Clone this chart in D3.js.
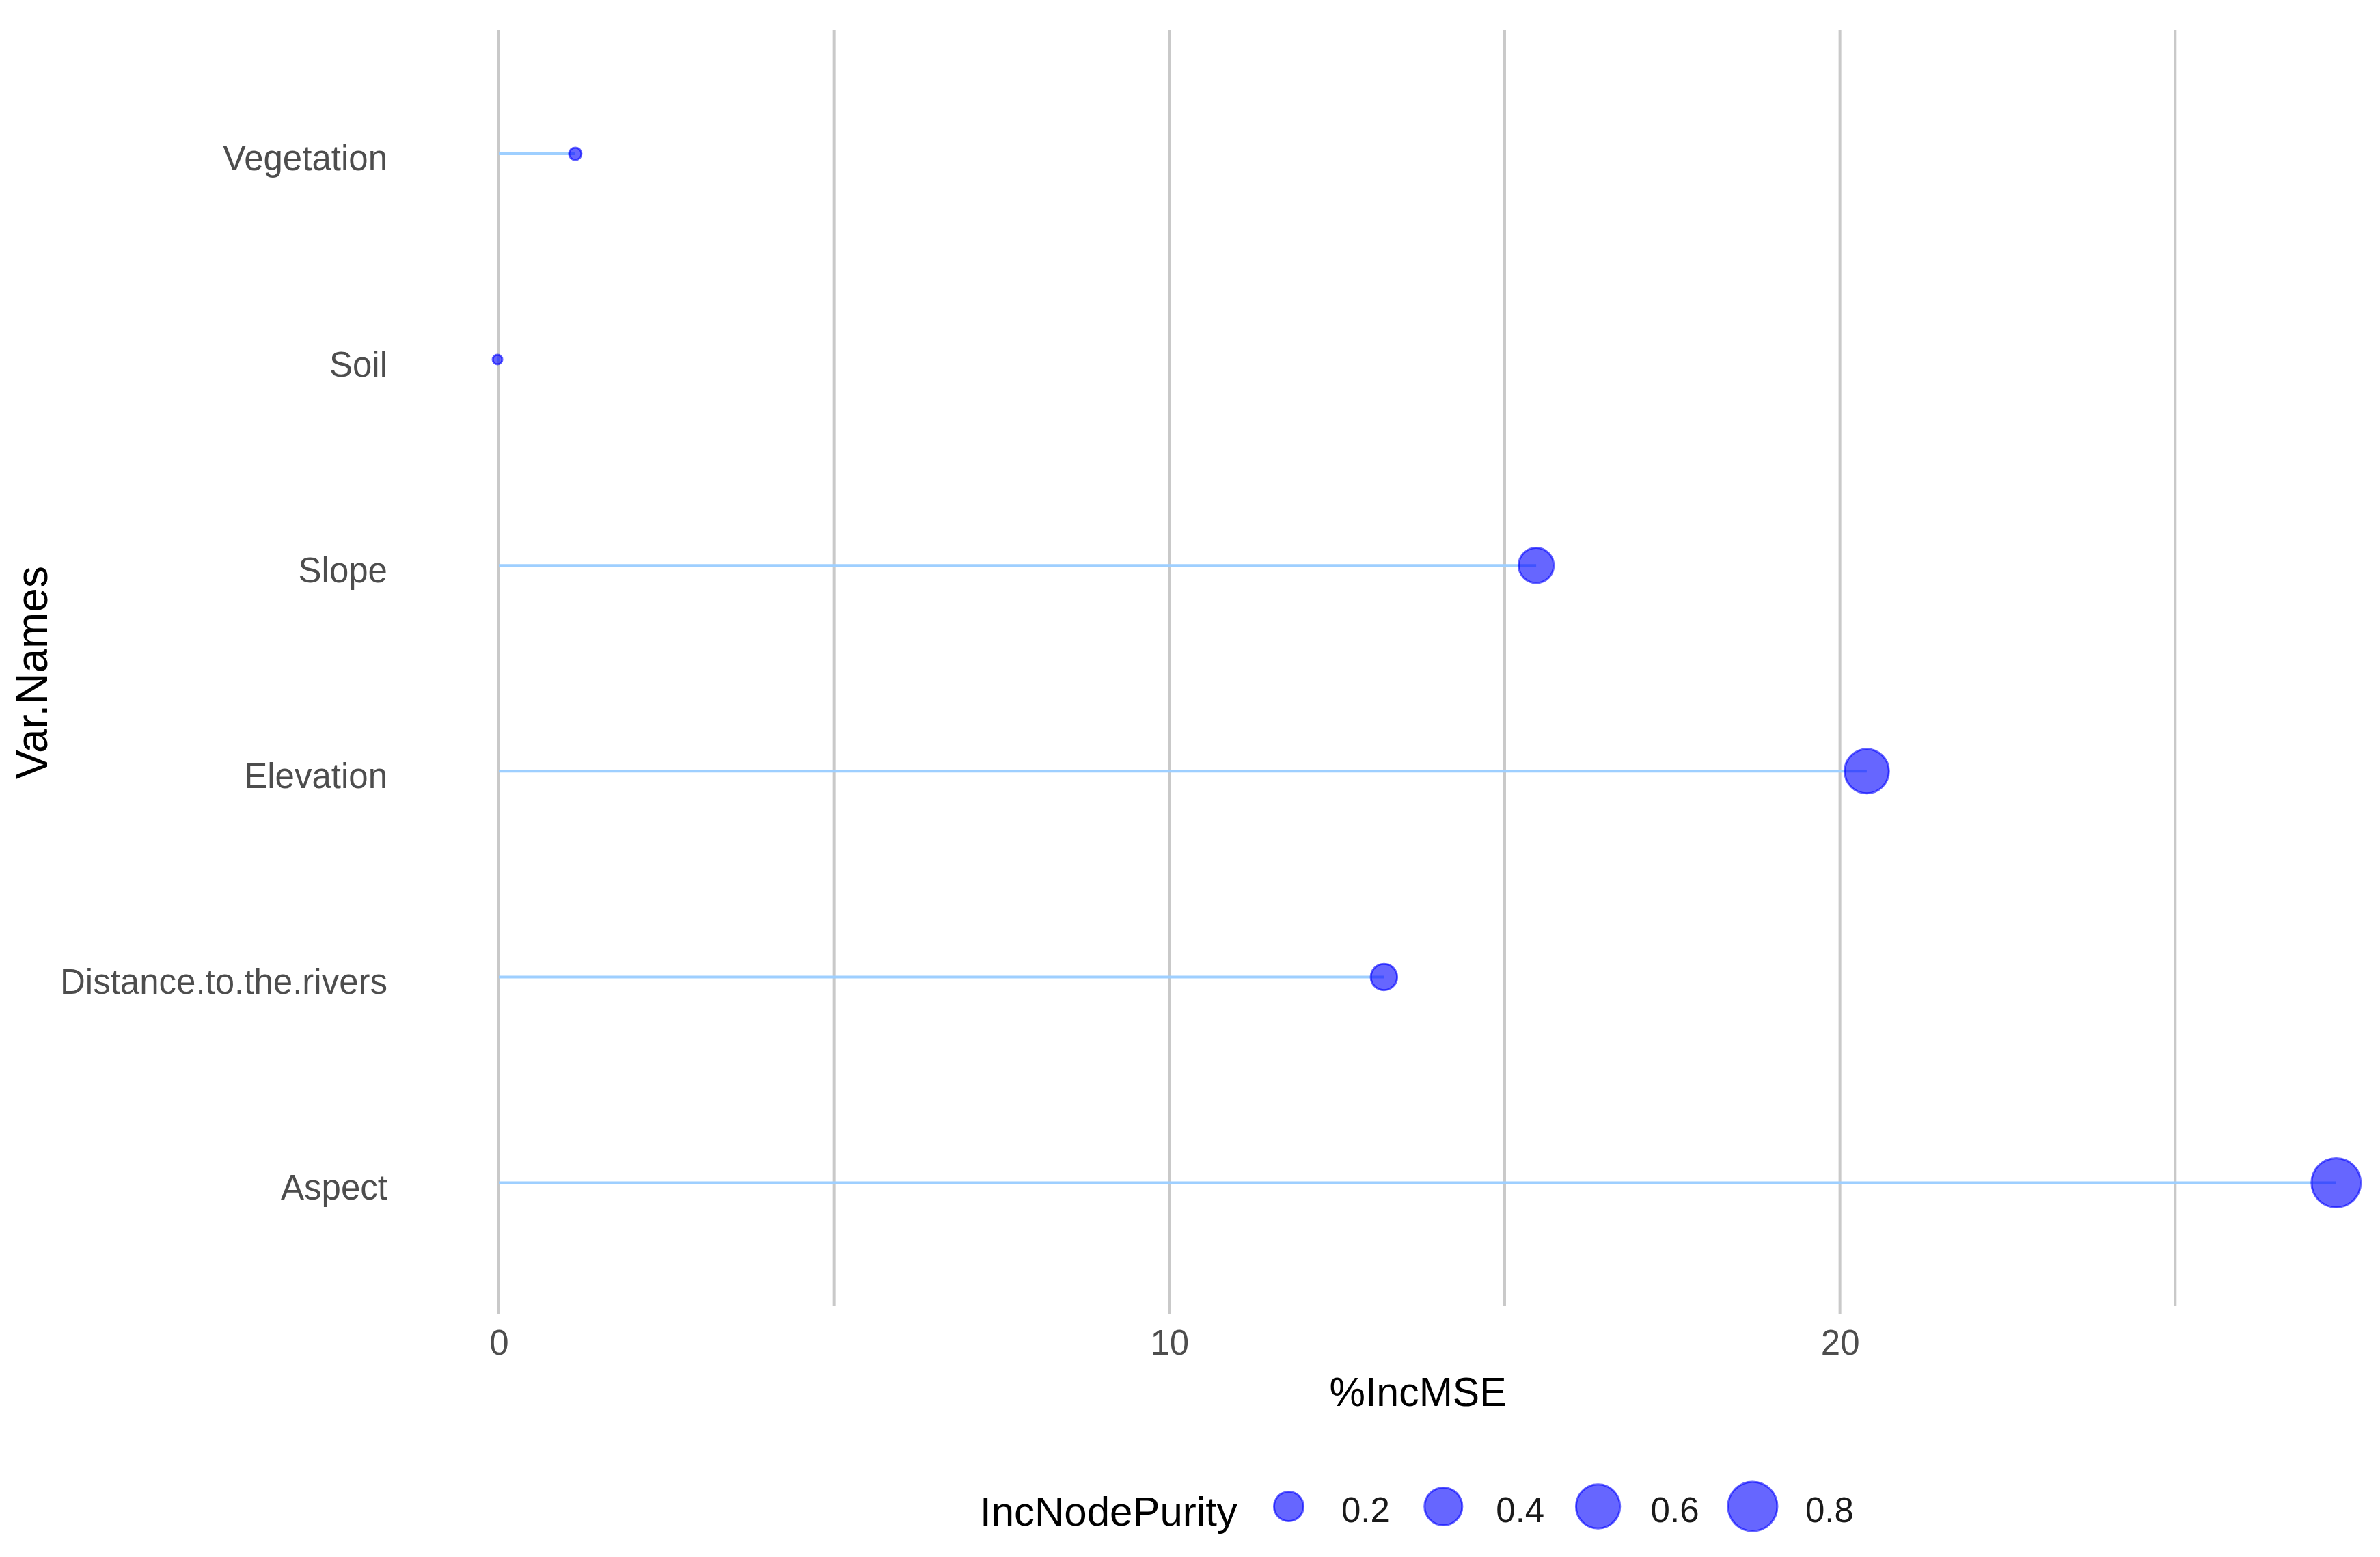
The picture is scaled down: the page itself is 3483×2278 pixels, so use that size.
<!DOCTYPE html>
<html>
<head>
<meta charset="utf-8">
<script src="https://cdn.jsdelivr.net/npm/d3@7"></script>
<style>
  html, body { margin: 0; padding: 0; background: #ffffff; }
  svg { display: block; }
  text { font-family: "Liberation Sans", Arial, sans-serif; }
</style>
</head>
<body>
<svg id="chart" width="3483" height="2278"></svg>
<script>
// ---- data ----
const categories = ["Vegetation", "Soil", "Slope", "Elevation", "Distance.to.the.rivers", "Aspect"];
const incMSE = [1.14, -0.02, 15.47, 20.4, 13.2, 27.4];
const incNodePurity = [0.004, 0.0, 0.33, 0.61, 0.142, 0.795];
const xTicks = [0, 10, 20];
const xMinorTicks = [5, 15, 25];
const legendBreaks = [0.2, 0.4, 0.6, 0.8];

// ---- layout ----
const panelTop = 44, panelBottom = 1911;
const svg = d3.select("#chart");

const x = d3.scaleLinear().domain([0, 25]).range([730, 3183.3]);
const y = d3.scalePoint().domain(categories).range([225, 1730.5]);
const diam = d3.scaleSqrt().domain([0, 1]).range([17, 82]);

const gridColor = "#c9c9c9";
const ptFill = "rgba(0,0,255,0.6)";

// gridlines
const grid = svg.append("g");
grid.selectAll("line.minor").data(xMinorTicks).join("line")
  .attr("x1", d => x(d)).attr("x2", d => x(d))
  .attr("y1", panelTop).attr("y2", panelBottom)
  .attr("stroke", gridColor).attr("stroke-width", 4);
grid.selectAll("line.major").data(xTicks).join("line")
  .attr("x1", d => x(d)).attr("x2", d => x(d))
  .attr("y1", panelTop).attr("y2", 1923)
  .attr("stroke", gridColor).attr("stroke-width", 4);

// x axis labels
const xAxis = d3.axisBottom(x).tickValues(xTicks).tickSize(0).tickPadding(0);
const xg = svg.append("g").attr("transform", `translate(0, 1982)`).call(xAxis);
xg.select(".domain").remove();
xg.selectAll("text")
  .attr("y", 0).attr("dy", 0)
  .attr("font-size", 51).attr("fill", "#4d4d4d")
  .attr("font-family", "Liberation Sans, Arial, sans-serif");

// y axis labels
const yAxis = d3.axisLeft(y).tickSize(0).tickPadding(0);
const yg = svg.append("g").attr("transform", `translate(567, 0)`).call(yAxis);
yg.select(".domain").remove();
yg.selectAll("text")
  .attr("x", 0).attr("dy", "0.47em")
  .attr("font-size", 51).attr("fill", "#4d4d4d")
  .attr("font-family", "Liberation Sans, Arial, sans-serif");

// axis titles
svg.append("text")
  .attr("x", 2075).attr("y", 2057)
  .attr("text-anchor", "middle")
  .attr("font-size", 59).attr("fill", "#000")
  .text("%IncMSE");
svg.append("text")
  .attr("transform", "translate(69, 984) rotate(-90)")
  .attr("text-anchor", "middle")
  .attr("font-size", 64).attr("fill", "#000")
  .text("Var.Names");

// data
const data = categories.map((c, i) => ({ cat: c, mse: incMSE[i], np: incNodePurity[i] }));

// segments
svg.append("g").selectAll("line").data(data).join("line")
  .attr("x1", x(0)).attr("x2", d => x(d.mse))
  .attr("y1", d => y(d.cat)).attr("y2", d => y(d.cat))
  .attr("stroke", "#9ecfff").attr("stroke-width", 4);

// points
svg.append("g").selectAll("circle").data(data).join("circle")
  .attr("cx", d => x(d.mse)).attr("cy", d => y(d.cat))
  .attr("r", d => diam(d.np) / 2 - 1.5)
  .attr("fill", ptFill)
  .attr("stroke", ptFill).attr("stroke-width", 3);

// legend
const leg = svg.append("g");
leg.append("text")
  .attr("x", 1434).attr("y", 2232)
  .attr("font-size", 60).attr("fill", "#000")
  .text("IncNodePurity");
const keyX0 = 1886, keyStep = 226.3, keyY = 2204;
const keys = leg.selectAll("g.key").data(legendBreaks).join("g")
  .attr("transform", (d, i) => `translate(${keyX0 + i * keyStep}, ${keyY})`);
keys.append("circle")
  .attr("r", d => diam(d) / 2 - 1.5)
  .attr("fill", ptFill)
  .attr("stroke", ptFill).attr("stroke-width", 3);
keys.append("text")
  .attr("x", 77).attr("y", 23)
  .attr("font-size", 51).attr("fill", "#1a1a1a")
  .text(d => d3.format(".1f")(d));
</script>
</body>
</html>
